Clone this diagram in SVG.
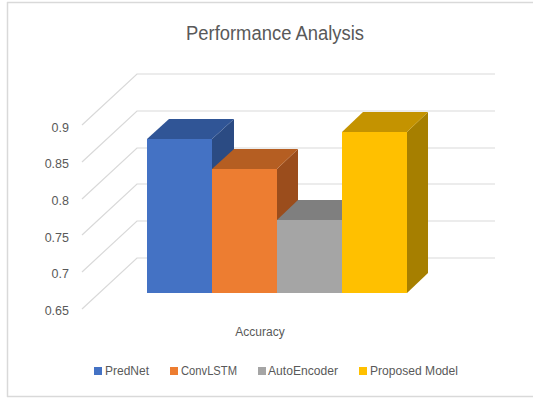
<svg xmlns="http://www.w3.org/2000/svg" width="533" height="401" viewBox="0 0 533 401">
<style>
.grid{stroke:#d9d9d9;stroke-width:1.2;fill:none}
.frame{stroke:#d9d9d9;stroke-width:1.5;fill:none}
.ax{font-family:"Liberation Sans",Arial,sans-serif;font-size:12.5px;fill:#595959;text-anchor:end}
.lbl{font-family:"Liberation Sans",Arial,sans-serif;font-size:12px;fill:#595959}
.title{font-family:"Liberation Sans",Arial,sans-serif;font-size:20px;fill:#595959}
</style>
<rect x="0" y="0" width="533" height="401" fill="#ffffff"/>
<g id="frame">
<line class="frame" x1="7" y1="2.5" x2="533" y2="2.5"/>
<line class="frame" x1="7.5" y1="2" x2="7.5" y2="397"/>
<line class="frame" x1="7" y1="396.5" x2="533" y2="396.5"/>
</g>
<text id="title" class="title" x="186" y="40" textLength="178" lengthAdjust="spacingAndGlyphs">Performance Analysis</text>
<g id="gridlines">
<path class="grid" d="M82,125 L137,74 H495 M82,162 L137,111 H495 M82,199 L137,148 H495 M82,235 L137,184 H495 M82,272 L137,221 H495 M82,309 L137,258 H495"/>
</g>
<g id="axis-labels">
<text class="ax" x="69" y="132">0.9</text>
<text class="ax" x="69" y="168">0.85</text>
<text class="ax" x="69" y="205">0.8</text>
<text class="ax" x="69" y="242">0.75</text>
<text class="ax" x="69" y="278">0.7</text>
<text class="ax" x="69" y="315">0.65</text>
</g>
<g id="bar-prednet">
<polygon points="212,139 234,119 234,273 212,293" fill="#2b4b83"/>
<polygon points="147,139 212,139 234,119 169,119" fill="#305596"/>
<rect x="147" y="139" width="65" height="154" fill="#4472c4"/>
</g>
<g id="bar-convlstm">
<polygon points="277,169 298,149 298,273 277,293" fill="#9b4d1c"/>
<polygon points="212,169 277,169 298,149 234,149" fill="#b55e22"/>
<rect x="212" y="169" width="65" height="124" fill="#ed7d31"/>
</g>
<g id="bar-autoencoder">
<polygon points="342,220 363,200 363,273 342,293" fill="#6b6b6b"/>
<polygon points="277,220 342,220 363,200 298,200" fill="#7f7f7f"/>
<rect x="277" y="220" width="65" height="73" fill="#a5a5a5"/>
</g>
<g id="bar-proposed">
<polygon points="407,132 428,112 428,273 407,293" fill="#a67f00"/>
<polygon points="342,132 407,132 428,112 363,112" fill="#c49300"/>
<rect x="342" y="132" width="65" height="161" fill="#ffc000"/>
</g>
<text id="category" class="lbl" x="260" y="336" text-anchor="middle">Accuracy</text>
<g id="legend">
<rect x="94" y="367" width="8" height="8" fill="#4472c4"/>
<text class="lbl" x="105" y="375" textLength="44" lengthAdjust="spacingAndGlyphs">PredNet</text>
<rect x="170" y="367" width="8" height="8" fill="#ed7d31"/>
<text class="lbl" x="181" y="375" textLength="56" lengthAdjust="spacingAndGlyphs">ConvLSTM</text>
<rect x="258" y="367" width="8" height="8" fill="#a5a5a5"/>
<text class="lbl" x="268" y="375" textLength="70" lengthAdjust="spacingAndGlyphs">AutoEncoder</text>
<rect x="359" y="367" width="8" height="8" fill="#ffc000"/>
<text class="lbl" x="370" y="375" textLength="88" lengthAdjust="spacingAndGlyphs">Proposed Model</text>
</g>
</svg>
